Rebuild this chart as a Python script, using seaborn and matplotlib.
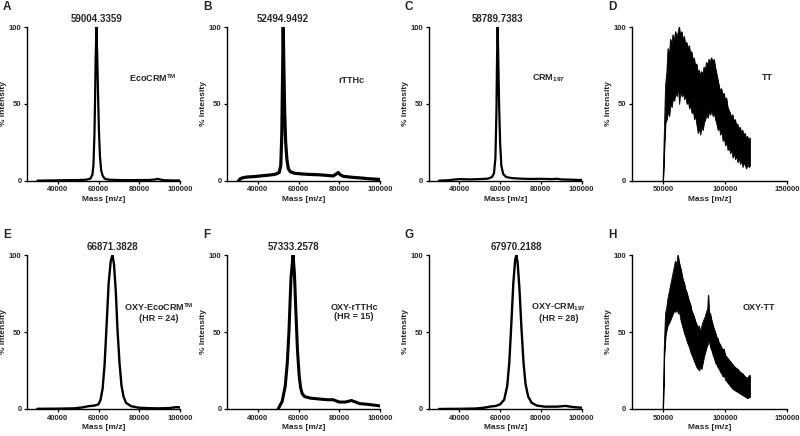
import matplotlib
matplotlib.use("Agg")
import matplotlib.pyplot as plt
import numpy as np
import seaborn as sns
import pandas as pd

################################# Données #################################

# A - EcoCRM
mass_a = [30000, 35000, 40000, 45000, 50000, 54000, 56000, 57000, 57500, 58000, 58300, 58600, 59004,
          59400, 59800, 60200, 60700, 61300, 62000, 63000, 65000, 70000, 75000, 80000, 85000, 88000,
          89000, 90000, 92000, 96000, 100000]
int_a = [0.2, 0.3, 0.4, 0.5, 0.6, 0.8, 1.5, 4, 10, 30, 52, 80, 100,
         80, 55, 33, 16, 7, 3.5, 1.5, 0.8, 0.6, 0.5, 0.6, 0.6, 1.0,
         1.4, 1.0, 0.5, 0.3, 0.3]

# B - rTTHc
mass_b = [30500, 31500, 33000, 35000, 38000, 41000, 44000, 47000, 49000, 50500, 51300, 51800, 52200,
          52495, 52800, 53200, 53700, 54300, 55000, 56000, 58000, 62000, 66000, 70000, 74000, 77000,
          78500, 79500, 80500, 82000, 86000, 90000, 94000, 97000, 100000]
int_b = [0, 1.5, 2.2, 2.6, 2.8, 3.2, 3.6, 4.0, 4.5, 5.5, 10, 30, 70,
         100, 75, 45, 25, 14, 8, 6, 5, 4.5, 4.2, 4.0, 3.6, 3.2,
         4.5, 5.5, 4.0, 3.0, 2.4, 2.0, 1.5, 1.2, 1.0]

# C - CRM197
mass_c = [30000, 35000, 38000, 40000, 45000, 50000, 54000, 56000, 57000, 57700, 58200, 58500, 58790,
          59100, 59500, 60000, 60600, 61500, 63000, 66000, 70000, 75000, 80000, 85000, 88000, 90000,
          95000, 100000]
int_c = [0.2, 0.5, 1.0, 1.2, 1.0, 1.2, 1.5, 2.5, 5, 15, 45, 80, 100,
         80, 50, 25, 10, 4.5, 2.5, 1.8, 1.5, 1.3, 1.4, 1.2, 1.4, 1.0,
         0.8, 0.6]

# D - TT (signal bruité : enveloppes haute / basse)
mass_d = [50000, 51000, 52000, 53000, 54000, 55000, 56000, 57000, 58000, 59000, 60000, 61000, 62000,
          63000, 64000, 65000, 66000, 67000, 68000, 69000, 70000, 71000, 72000, 73000, 74000, 75000,
          76000, 77000, 78000, 79000, 80000, 81000, 82000, 83000, 84000, 85000, 86000, 87000, 88000,
          89000, 90000, 91000, 92000, 93000, 94000, 95000, 96000, 97000, 98000, 99000, 100000, 101000,
          102000, 103000, 104000, 105000, 106000, 107000, 108000, 109000, 110000, 111000, 112000,
          113000, 114000, 115000, 116000, 117000, 118000, 119000, 120000]
haut_d = [0, 30, 62, 70, 86, 80, 92, 88, 95, 90, 97, 92, 96,
          100, 93, 97, 91, 94, 88, 90, 85, 88, 82, 84, 78, 80,
          74, 76, 70, 72, 68, 71, 69, 74, 72, 77, 75, 79, 77,
          80, 76, 79, 74, 70, 66, 62, 58, 60, 55, 57, 52, 54,
          48, 46, 44, 41, 43, 38, 40, 36, 37, 33, 35,
          31, 33, 29, 31, 27, 29, 25, 28]
bas_d = [0, 20, 38, 40, 45, 42, 50, 48, 54, 52, 57, 55, 60,
         50, 58, 55, 57, 53, 55, 50, 52, 47, 49, 44, 46, 40,
         42, 36, 31, 34, 30, 35, 33, 38, 40, 43, 41, 45, 43,
         46, 42, 44, 40, 37, 33, 35, 30, 32, 26, 28, 23, 25,
         20, 22, 18, 20, 15, 18, 14, 16, 12, 15, 11,
         13, 9, 12, 10, 8, 11, 9, 10]

# E - OXY-EcoCRM
mass_e = [30000, 40000, 48000, 52000, 55000, 58000, 60000, 61000, 62000, 63000, 63800, 65000, 66000,
          66871, 67600, 68500, 69300, 70300, 71300, 72300, 73500, 76000, 80000, 85000, 90000, 95000,
          98000, 100000]
int_e = [0.1, 0.2, 0.4, 1.0, 1.8, 2.2, 3, 6, 13, 29, 50, 82, 96,
         100, 94, 76, 52, 30, 15, 8, 4, 1.8, 0.8, 0.5, 0.4, 0.6,
         1.2, 1.0]

# F - OXY-rTTHc
mass_f = [50000, 52000, 53500, 54500, 55300, 56300, 57333, 58000, 58800, 59500, 60300, 61000, 61800,
          63000, 66000, 70000, 74000, 77000, 80000, 83000, 86000, 88000, 90000, 94000, 97000, 100000]
int_f = [0, 5, 15, 30, 50, 85, 100, 88, 60, 38, 22, 14, 10,
         8, 7, 6.5, 6, 6, 4.5, 4.5, 5.5, 4.5, 3.5, 3, 2.5, 2]

# G - OXY-CRM197
mass_g = [30000, 40000, 48000, 52000, 55000, 58000, 60000, 62000, 63500, 64500, 65500, 66500, 67400,
          67970, 68600, 69500, 70500, 71500, 72500, 73800, 75500, 78000, 82000, 88000, 92000, 96000,
          100000]
int_g = [0, 0.1, 0.3, 0.8, 1.5, 2.0, 3.0, 6, 15, 30, 55, 82, 97,
         100, 95, 78, 52, 30, 16, 8, 4, 2.2, 1.5, 1.5, 2.0, 1.2,
         0.8]

# H - OXY-TT (signal bruité : enveloppes haute / basse)
mass_h = [50000, 51000, 52000, 53000, 54000, 55000, 56000, 57000, 58000, 59000, 60000, 61000, 62000,
          63000, 64000, 65000, 66000, 67000, 68000, 69000, 70000, 71000, 72000, 73000, 74000, 75000,
          76000, 77000, 78000, 79000, 80000, 81000, 82000, 83000, 84000, 85000, 86000, 86500, 87000,
          88000, 89000, 90000, 91000, 92000, 93000, 94000, 95000, 96000, 97000, 98000, 99000, 100000,
          102000, 104000, 106000, 108000, 110000, 112000, 114000, 116000, 118000, 120000]
haut_h = [0, 40, 62, 66, 72, 76, 80, 84, 88, 92, 96, 93, 100,
          95, 92, 88, 84, 82, 78, 76, 73, 70, 68, 64, 62, 60,
          57, 55, 52, 54, 50, 53, 56, 58, 60, 63, 65, 74, 63,
          62, 58, 55, 52, 50, 47, 46, 43, 42, 40, 38, 39, 35,
          33, 31, 29, 27, 26, 24, 23, 21, 20, 22]
bas_h = [0, 35, 47, 52, 55, 56, 58, 60, 62, 64, 63, 65, 62,
         63, 58, 55, 52, 49, 47, 44, 42, 40, 37, 35, 33, 31,
         29, 27, 26, 25, 27, 26, 30, 34, 37, 40, 42, 44, 44,
         40, 38, 35, 33, 30, 29, 27, 26, 24, 23, 21, 22, 19,
         17, 15, 13, 12, 11, 10, 9, 8, 7, 8]

################################# Style #################################

sns.set_style("ticks")
plt.rcParams['font.family'] = ['Liberation Sans', 'DejaVu Sans']
plt.rcParams['font.weight'] = 'bold'
plt.rcParams['mathtext.fontset'] = 'custom'
plt.rcParams['mathtext.rm'] = 'Liberation Sans:bold'
plt.rcParams['mathtext.default'] = 'rm'

fig = plt.figure(figsize=(8, 4.36), dpi=100)

# lettre, position, données, pic, nom et position du nom, épaisseur du trait
panneaux = [
    ('A', [0.034, 0.585, 0.191, 0.353], mass_a, int_a, None, '59004.3359', 59004, 'EcoCRM$^{TM}$', 0.82, 0.67, 1.6),
    ('B', [0.284, 0.585, 0.191, 0.353], mass_b, int_b, None, '52494.9492', 52495, 'rTTHc', 0.81, 0.65, 2.3),
    ('C', [0.536, 0.585, 0.191, 0.353], mass_c, int_c, None, '58789.7383', 58790, 'CRM$_{197}$', 0.78, 0.67, 1.6),
    ('D', [0.790, 0.585, 0.194, 0.353], mass_d, haut_d, bas_d, None, None, 'TT', 0.87, 0.67, 0.6),
    ('E', [0.034, 0.062, 0.191, 0.353], mass_e, int_e, None, '66871.3828', 66871, 'OXY-EcoCRM$^{TM}$\n(HR = 24)', 0.86, 0.63, 1.7),
    ('F', [0.284, 0.062, 0.191, 0.353], mass_f, int_f, None, '57333.2578', 57333, 'OXY-rTTHc\n(HR = 15)', 0.83, 0.63, 2.2),
    ('G', [0.536, 0.062, 0.191, 0.353], mass_g, int_g, None, '67970.2188', 67970, 'OXY-CRM$_{197}$\n(HR = 28)', 0.85, 0.63, 1.7),
    ('H', [0.790, 0.062, 0.194, 0.353], mass_h, haut_h, bas_h, None, None, 'OXY-TT', 0.82, 0.66, 0.6),
]

for lettre, pos, masses, valeurs, bas, pic_txt, pic_x, nom, nx, ny, lw in panneaux:
    ax = fig.add_axes(pos)
    df = pd.DataFrame({'masse': masses, 'intensite': valeurs})
    if bas is None:
        sns.lineplot(data=df, x='masse', y='intensite', ax=ax, color='black', linewidth=lw)
        ax.set_xlim(25000, 100000)
        ax.set_xticks([40000, 60000, 80000, 100000])
    else:
        ax.fill_between(masses, bas, valeurs, color='black', edgecolor='black', linewidth=lw)
        sns.lineplot(data=df, x='masse', y='intensite', ax=ax, color='black', linewidth=lw)
        ax.set_xlim(25000, 150000)
        ax.set_xticks([50000, 100000, 150000])
    ax.set_ylim(0, 100)
    ax.set_yticks([0, 50, 100])
    ax.set_xlabel('Mass [m/z]', fontsize=6, fontweight='bold')
    ax.set_ylabel('% Intensity', fontsize=6, fontweight='bold')
    ax.xaxis.set_label_coords(0.5, -0.1)
    ax.yaxis.set_label_coords(-0.13, 0.5)
    ax.tick_params(labelsize=5.5, length=2.5, width=0.9, pad=1.5, color='black')
    for lab in ax.get_xticklabels() + ax.get_yticklabels():
        lab.set_fontweight('bold')
    sns.despine(ax=ax)
    for sp in ['left', 'bottom']:
        ax.spines[sp].set_linewidth(1.0)
        ax.spines[sp].set_color('black')
    if pic_txt is not None:
        ax.text(pic_x, 103, pic_txt, ha='center', va='baseline', fontsize=7, fontweight='bold', clip_on=False)
    ax.text(nx, ny, nom, transform=ax.transAxes, ha='center', va='center', fontsize=6.5,
            fontweight='bold', linespacing=1.1)
    fig.text(pos[0] - 0.03, pos[1] + pos[3] + 0.045, lettre, ha='left', va='center', fontsize=8.5, fontweight='bold')

plt.savefig("out.png", dpi=100)
